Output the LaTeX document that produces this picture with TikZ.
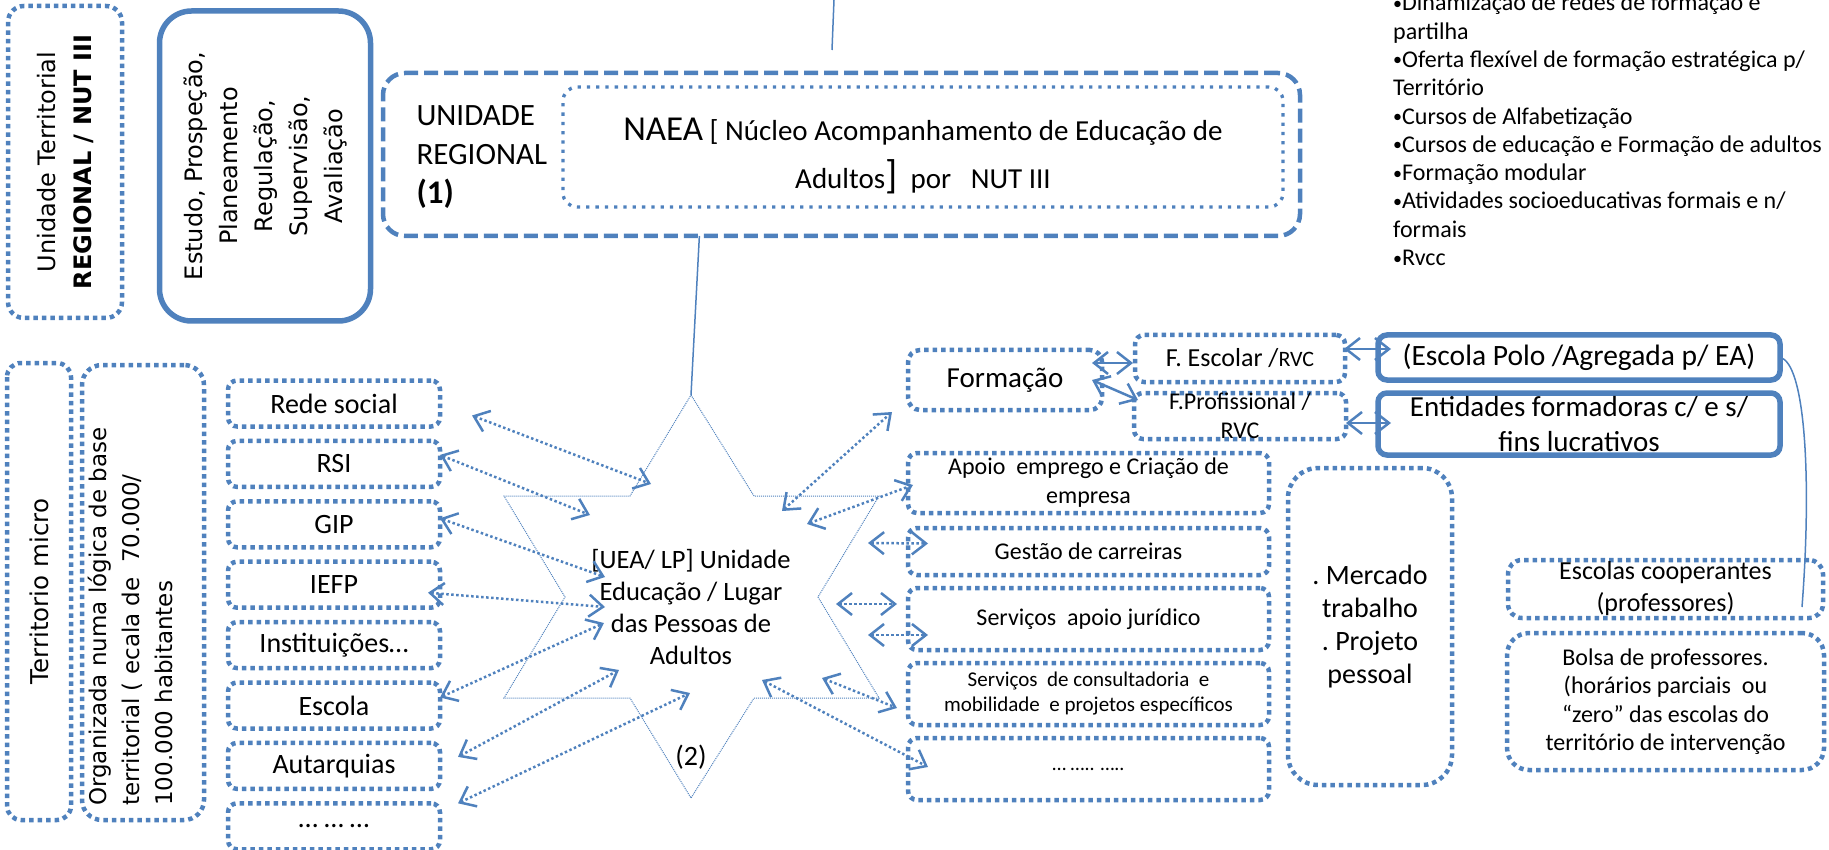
\documentclass[tikz,border=0pt]{standalone}
\usepackage{fontspec}
\setmainfont{Carlito}
\newfontfamily\verdfont{DejaVu Sans}
\usetikzlibrary{arrows.meta, positioning, calc}
\definecolor{accBlue}{RGB}{79, 129, 189}
\newcommand{\offerdot}{{\fontsize{18}{18}\selectfont\raisebox{1.5pt}{•}}}

\begin{document}
\begin{tikzpicture}[
        x=1pt, y=-1pt,
        node distance=14.4pt,
        font=\fontsize{28}{34}\selectfont,
        box/.style={rectangle, rounded corners=9pt, draw=accBlue, line width=4.5pt, dash pattern=on 4.5pt off 4pt, inner sep=0pt, outer sep=0pt, align=center},
        listbox/.style={box, minimum width=212pt, minimum height=46pt},
        svcbox/.style={box, minimum width=361pt, minimum height=62pt, font=\fontsize{24}{29}\selectfont},
        thickbox/.style={rectangle, rounded corners=9pt, draw=accBlue, line width=5.5pt, inner sep=0pt, outer sep=0pt, align=center},
        vtext/.style={rotate=90, font=\verdfont\fontsize{24}{35}\selectfont},
        arrow/.style={{Straight Barb[length=14pt,width=22pt]}-{Straight Barb[length=14pt,width=22pt]}, draw=accBlue, line width=2.5pt},
        dotarrow/.style={arrow, dash pattern=on 2.5pt off 2.5pt},
        link/.style={draw=accBlue, line width=1.5pt},
        starline/.style={draw=accBlue, line width=1pt, dash pattern=on 1pt off 1pt}
    ]
        \useasboundingbox (0,0) rectangle (1829,850);

        % Regional level
        \node[box, vtext, rounded corners=16pt, minimum width=312pt, minimum height=114pt, font=\verdfont\fontsize{24}{36}\selectfont] (unit) at (65,162) {Unidade Territorial\\\textbf{REGIONAL / NUT III}};
        \node[thickbox, vtext, rounded corners=32pt, minimum width=310pt, minimum height=211pt] (study) at (265,166) {Estudo, Prospeção,\\Planeamento\\Regulação,\\Supervisão,\\Avaliação};
        \node[box, dash pattern=on 14pt off 6pt, rounded corners=22pt, minimum width=917pt, minimum height=163pt] (region) at (841.5,154.5) {};
        \node[anchor=west, align=left, font=\fontsize{31}{39}\selectfont] (regLabel) at (413,157) {UNIDADE\\REGIONAL\\{\fontsize{33}{41}\selectfont\bfseries (1)}};
        \node[box, line width=3.3pt, dash pattern=on 3.3pt off 6pt, rounded corners=14pt, minimum width=720pt, minimum height=120pt] (naea) at (923,147) {};
        \node[align=center, font=\fontsize{29}{48}\selectfont] (naeaTxt) at (923,156) {{\fontsize{35}{48}\selectfont NAEA} [ Núcleo Acompanhamento de Educação de\\Adultos{\fontsize{40}{48}\selectfont]}~~por~~~NUT III};

        % Offer list
        \node[anchor=north west, align=left, inner sep=0pt, font=\fontsize{24}{28.3}\selectfont] (offer) at (1393,-6) {\offerdot Dinamização de redes de formação e\\partilha\\\offerdot Oferta flexível de formação estratégica p/\\Território\\\offerdot Cursos de Alfabetização\\\offerdot Cursos de educação e Formação de adultos\\\offerdot Formação modular\\\offerdot Atividades socioeducativas formais e n/\\formais\\\offerdot Rvcc};

        % Micro territory
        \node[box, vtext, rounded corners=14pt, minimum width=457pt, minimum height=64pt, font=\verdfont\fontsize{24.5}{28}\selectfont] (micro) at (39,591.5) {Territorio micro};
        \node[box, rounded corners=20pt, minimum width=122pt, minimum height=455pt] (scale) at (143,592.5) {};
        \node[vtext, anchor=west, align=left, inner sep=0pt, font=\verdfont\fontsize{23}{33}\selectfont] (scaleTxt) at (130,806) {Organizada numa lógica de base\\territorial ( ecala de~~70.000/\\100.000 habitantes};

        % Partner nodes
        \node[listbox] (rede) at (334,403.5) {Rede social};
        \node[listbox, below=of rede] (rsi) {RSI};
        \node[listbox, below=of rsi] (gip) {GIP};
        \node[listbox, below=of gip] (iefp) {IEFP};
        \node[listbox, below=of iefp] (inst) {Instituições…};
        \node[listbox, below=of inst] (escola) {Escola};
        \node[listbox, below=of escola] (autarq) {Autarquias};
        \node[listbox, below=of autarq] (more) {… … …};

        % Local unit
        \coordinate (ueaC) at (691,597);
        \draw[starline, shift={(ueaC)}] (0,-202) -- (63,-101) -- (188,-101) -- (127,0) -- (188,101) -- (63,101) -- (0,201) -- (-61,101) -- (-187,101) -- (-126,0) -- (-187,-101) -- (-61,-101) -- cycle;
        \node[align=center, font=\fontsize{26.5}{31.7}\selectfont] (uea) at (691,607) {[UEA/ LP] Unidade\\Educação / Lugar\\das Pessoas de\\Adultos};
        \node (ueaNum) at (691,757) {(2)};
        \coordinate (ueaTop) at ($(ueaC)+(0,-202)$);
        \foreach \name/\dx/\dy in {sRede/-40/-113, sRsi/-101/-82, sGip/-86/-20, sIefp/-86/10, sEscola/-87/26, sAutarq/-72/73, sMore/-1/96,
                                   sForm/91/-86, sApoio/116/-73, sGestao/177/-54, sJurA/145/7, sJurB/177/38, sConsult/131/81, sRest/71/83}
            \coordinate (\name) at ($(ueaC)+(\dx,\dy)$);

        % Training nodes
        \node[box, rounded corners=12pt, minimum width=194pt, minimum height=60pt, font=\fontsize{29}{34}\selectfont] (form) at (1005,380) {Formação};
        \node[box, minimum width=210pt, minimum height=47pt] (escolar) at (1240,358.5) {{\fontsize{26}{30}\selectfont F. Escolar /}{\fontsize{22}{26}\selectfont RVC}};
        \node[box, minimum width=212pt, minimum height=46pt, below=11pt of escolar, font=\fontsize{24}{29}\selectfont] (prof) {F.Profissional /\\RVC};
        \node[thickbox, minimum width=402pt, minimum height=45pt, font=\fontsize{29.5}{35}\selectfont] (polo) at (1579,357.5) {(Escola Polo /Agregada p/ EA)};
        \node[thickbox, minimum width=402pt, minimum height=62pt, below=13pt of polo, font=\fontsize{29}{35}\selectfont] (entid) {Entidades formadoras c/ e s/\\fins lucrativos};

        % Service nodes
        \node[svcbox, minimum height=60pt] (apoio) at (1088.5,483) {Apoio~~emprego e Criação de\\empresa};
        \node[svcbox, minimum height=47pt, below=15pt of apoio] (gestao) {Gestão de carreiras};
        \node[svcbox, below=13pt of gestao] (jurid) {Serviços~~apoio jurídico};
        \node[svcbox, below=13pt of jurid, font=\fontsize{21}{25}\selectfont] (consult) {Serviços~~de consultadoria~~e\\mobilidade~~e projetos específicos};
        \node[svcbox, below=13pt of consult, font=\fontsize{20}{24}\selectfont] (rest) {… ….. …..};
        \node[box, rounded corners=30pt, minimum width=164pt, minimum height=317pt, font=\fontsize{28}{33.3}\selectfont] (mercado) at (1370,626.5) {.~Mercado\\trabalho\\.~Projeto\\pessoal};

        % Teacher nodes
        \node[box, rounded corners=14pt, minimum width=315pt, minimum height=58pt, font=\fontsize{26}{32}\selectfont] (coop) at (1665.5,589) {Escolas cooperantes\\(professores)};
        \node[box, rounded corners=22pt, minimum width=317pt, minimum height=137pt, below=15pt of coop, font=\fontsize{24}{28.5}\selectfont] (bolsa) {Bolsa de professores.\\(horários parciais~~ou\\“zero” das escolas do\\território de intervenção};

        % Links
        \coordinate (topIn) at (834,0);
        \draw[link] (topIn) -- ++(-2,50);
        \draw[link] ($(region.south west)!0.345!(region.south east)$) -- (ueaTop);
        \coordinate (coopIn) at ($(coop.north east)+(-21,47)$);
        \draw[link] (polo.east) .. controls ($(polo.east)+(25,5)$) and ($(coopIn)+(10,-130)$) .. (coopIn);

        % Arrows
        \draw[dotarrow] ([shift={(32,12)}]rede.east) -- (sRede);
        \draw[dotarrow] ([yshift=9pt]rsi.east) -- (sRsi);
        \draw[dotarrow] ([yshift=6pt]gip.east) -- (sGip);
        \draw[dotarrow] ([shift={(-12,8)}]iefp.east) -- (sIefp);
        \draw[dotarrow] ([yshift=8pt]escola.east) -- (sEscola);
        \draw[dotarrow] ([shift={(18,-9)}]autarq.east) -- (sAutarq);
        \draw[dotarrow] ([shift={(18,-23)}]more.east) -- (sMore);
        \draw[dotarrow] (sForm) -- ([shift={(-16,2)}]form.south west);
        \draw[dotarrow] (sApoio) -- ([shift={(5,2)}]apoio.west);
        \draw[dotarrow] (sGestao) -- ([shift={(20,-8)}]gestao.west);
        \draw[dotarrow] (sJurA) -- ([shift={(-11,-15)}]jurid.west);
        \draw[dotarrow] (sJurB) -- ([shift={(20,16)}]jurid.west);
        \draw[dotarrow] (sConsult) -- ([shift={(-11,14)}]consult.west);
        \draw[dotarrow] (sRest) -- ([shift={(20,-2)}]rest.west);
        \draw[arrow] ([shift={(-10,-17)}]form.east) -- ([shift={(-2,4.5)}]escolar.west);
        \draw[arrow] ([xshift=-10pt]form.east) -- ([shift={(4,7)}]prof.north west);
        \draw[arrow] ([shift={(-1,-9.5)}]escolar.east) -- ([shift={(13,-8.5)}]polo.west);
        \draw[arrow] ([shift={(0,30)}]prof.north east) -- ([shift={(13,30)}]entid.north west);
    \end{tikzpicture}
\end{document}
